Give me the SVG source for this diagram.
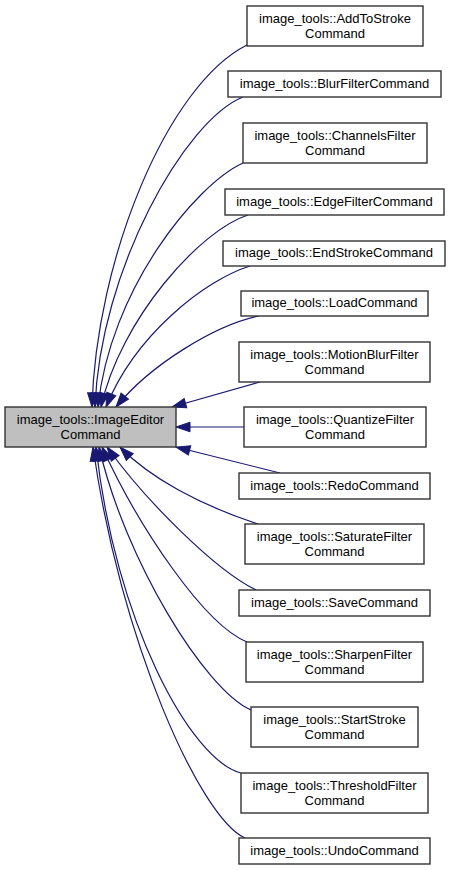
<svg xmlns="http://www.w3.org/2000/svg" width="451" height="870" viewBox="0 0 451 870">
<defs>
<style>
.node rect{fill:#ffffff;stroke:#333333;stroke-width:1.4}
.main rect{fill:#bfbfbf}
.node text{font-family:"Liberation Sans",Arial,sans-serif;font-size:13px;fill:#000;text-anchor:middle}
.edges path{fill:none;stroke:#191970;stroke-width:1.2;marker-end:url(#arr)}
</style>
<marker id="arr" markerUnits="userSpaceOnUse" markerWidth="16" markerHeight="12" refX="14" refY="5" orient="auto" overflow="visible">
<path d="M0,0.2 L14,5 L0,9.8 Z" fill="#191970" stroke="#191970" stroke-width="1"/>
</marker>
</defs>
<rect width="451" height="870" fill="#ffffff"/>
<g id="edges" class="edges">
<path d="M247,45 C167,85 96,260 92,407"/>
<path d="M243,97 C185,120 100,270 95,407"/>
<path d="M243,163 C195,185 110,290 98,407"/>
<path d="M248,215 C200,230 120,320 101,407"/>
<path d="M250,266 C205,280 135,335 106,407"/>
<path d="M259,316 C215,325 150,365 116,407"/>
<path d="M260,382 L172,407"/>
<path d="M244,427 L176,427"/>
<path d="M280,473 L176,447"/>
<path d="M258,524 C200,505 150,478 120,447"/>
<path d="M256,590 C215,570 145,500 107,447"/>
<path d="M247,642 C205,625 140,530 102,447"/>
<path d="M251,710 C205,690 125,560 99,447"/>
<path d="M241,773 C190,760 115,620 96,447"/>
<path d="M245,838 C200,818 120,640 93,447"/>
</g>
<g id="ImageEditorCommand" class="node main"><rect x="5" y="407" width="171" height="40"/><text x="90.5" y="424">image_tools::ImageEditor</text><text x="90.5" y="439">Command</text></g>
<g id="AddToStrokeCommand" class="node"><rect x="247" y="6" width="176" height="40"/><text x="335" y="23">image_tools::AddToStroke</text><text x="335" y="38">Command</text></g>
<g id="BlurFilterCommand" class="node"><rect x="228" y="71" width="213" height="26"/><text x="334.5" y="87.5">image_tools::BlurFilterCommand</text></g>
<g id="ChannelsFilterCommand" class="node"><rect x="243" y="123" width="184" height="40"/><text x="335" y="140">image_tools::ChannelsFilter</text><text x="335" y="155">Command</text></g>
<g id="EdgeFilterCommand" class="node"><rect x="225" y="189" width="219" height="26"/><text x="334.5" y="205.5">image_tools::EdgeFilterCommand</text></g>
<g id="EndStrokeCommand" class="node"><rect x="223" y="241" width="222" height="25"/><text x="334" y="257">image_tools::EndStrokeCommand</text></g>
<g id="LoadCommand" class="node"><rect x="241" y="291" width="187" height="25"/><text x="334.5" y="307">image_tools::LoadCommand</text></g>
<g id="MotionBlurFilterCommand" class="node"><rect x="239" y="342" width="191" height="40"/><text x="334.5" y="359">image_tools::MotionBlurFilter</text><text x="334.5" y="374">Command</text></g>
<g id="QuantizeFilterCommand" class="node"><rect x="244" y="407" width="182" height="40"/><text x="335" y="424">image_tools::QuantizeFilter</text><text x="335" y="439">Command</text></g>
<g id="RedoCommand" class="node"><rect x="239" y="473" width="191" height="26"/><text x="334.5" y="489.5">image_tools::RedoCommand</text></g>
<g id="SaturateFilterCommand" class="node"><rect x="245" y="524" width="179" height="40"/><text x="334.5" y="541">image_tools::SaturateFilter</text><text x="334.5" y="556">Command</text></g>
<g id="SaveCommand" class="node"><rect x="239" y="590" width="191" height="26"/><text x="334.5" y="606.5">image_tools::SaveCommand</text></g>
<g id="SharpenFilterCommand" class="node"><rect x="246" y="642" width="177" height="40"/><text x="334.5" y="659">image_tools::SharpenFilter</text><text x="334.5" y="674">Command</text></g>
<g id="StartStrokeCommand" class="node"><rect x="251" y="707" width="167" height="40"/><text x="334.5" y="724">image_tools::StartStroke</text><text x="334.5" y="739">Command</text></g>
<g id="ThresholdFilterCommand" class="node"><rect x="241" y="773" width="187" height="40"/><text x="334.5" y="790">image_tools::ThresholdFilter</text><text x="334.5" y="805">Command</text></g>
<g id="UndoCommand" class="node"><rect x="239" y="838" width="191" height="26"/><text x="334.5" y="854.5">image_tools::UndoCommand</text></g>
</svg>
